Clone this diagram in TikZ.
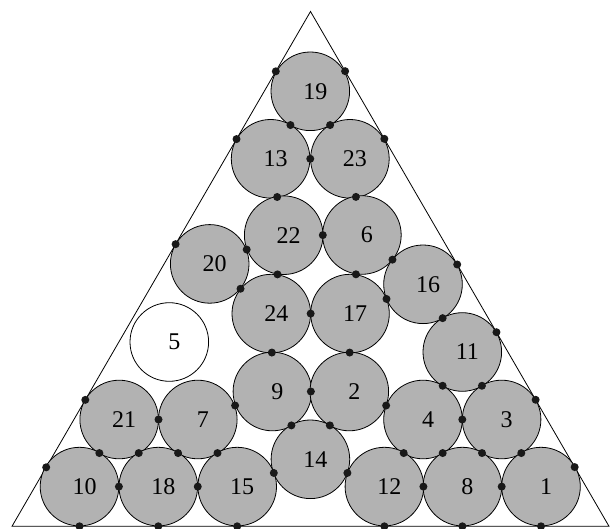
\documentclass[tikz,border=0pt]{standalone}
\usepackage{fontspec}
\setmainfont{Liberation Serif}
\usepackage{tikz}
\usetikzlibrary{calc}

\tikzset{
  disc/.style={circle,draw,line width=0.8pt,fill=gray!60,minimum size=78.6pt,inner sep=0pt,
    label={[xshift=5pt,font=\fontsize{24}{24}\selectfont]center:#1}},
  rattler/.style={disc=#1,fill=white},
  contact/.style={fill=black!90},
}

\begin{document}
\begin{tikzpicture}[x=1pt,y=-1pt]
\useasboundingbox (0,0) rectangle (610,529);
\coordinate (A) at (12,526.3);
\coordinate (B) at (609,526.3);
\coordinate (C) at (310.5,11.5);
\draw[line width=0.8pt] (A)--(B)--(C)--cycle;
\node[disc=19] (c19) at (310.3,91.3) {};
\node[disc=13] (c13) at (270.6,158.8) {};
\node[disc=23] (c23) at (349.9,158.8) {};
\node[disc=22] (c22) at (283.7,235.2) {};
\node[disc=6] (c6) at (361.9,235.0) {};
\node[disc=20] (c20) at (209.7,263.9) {};
\node[disc=24] (c24) at (271.3,313.6) {};
\node[disc=17] (c17) at (350.0,313.6) {};
\node[disc=16] (c16) at (423.0,284.3) {};
\node[rattler=5] (c5) at (169.3,342.0) {};
\node[disc=11] (c11) at (462.3,352.0) {};
\node[disc=9] (c9) at (272.4,391.5) {};
\node[disc=2] (c2) at (349.3,391.5) {};
\node[disc=21] (c21) at (119.2,419.5) {};
\node[disc=7] (c7) at (197.8,419.5) {};
\node[disc=4] (c4) at (423.0,419.5) {};
\node[disc=3] (c3) at (501.6,419.5) {};
\node[disc=14] (c14) at (310.4,459.3) {};
\node[disc=10] (c10) at (79.5,486.6) {};
\node[disc=18] (c18) at (158.3,486.6) {};
\node[disc=15] (c15) at (237.2,486.6) {};
\node[disc=12] (c12) at (384.4,486.6) {};
\node[disc=8] (c8) at (462.4,486.6) {};
\node[disc=1] (c1) at (541.0,486.6) {};
\foreach \p/\q in {c19/c13,c19/c23,c13/c23,c13/c22,c23/c6,c22/c6,c20/c22,c20/c24,
  c22/c24,c6/c17,c24/c17,c6/c16,c17/c16,c16/c11,c24/c9,c17/c2,c9/c2,c9/c7,c9/c14,
  c2/c14,c2/c4,c11/c4,c11/c3,c4/c3,c21/c7,c21/c10,c21/c18,c7/c18,c7/c15,c10/c18,
  c18/c15,c15/c14,c14/c12,c4/c12,c4/c8,c3/c8,c3/c1,c12/c8,c8/c1}
  \fill[contact] ($(\p)!0.5!(\q)$) circle (4pt);
\foreach \p in {c19,c13,c20,c21,c10}
  \fill[contact] ($(A)!(\p)!(C)$) circle (4pt);
\foreach \p in {c19,c23,c16,c11,c3,c1}
  \fill[contact] ($(B)!(\p)!(C)$) circle (4pt);
\foreach \p in {c10,c18,c15,c12,c8,c1}
  \fill[contact] ($(A)!(\p)!(B)$) circle (4pt);
\end{tikzpicture}
\end{document}
